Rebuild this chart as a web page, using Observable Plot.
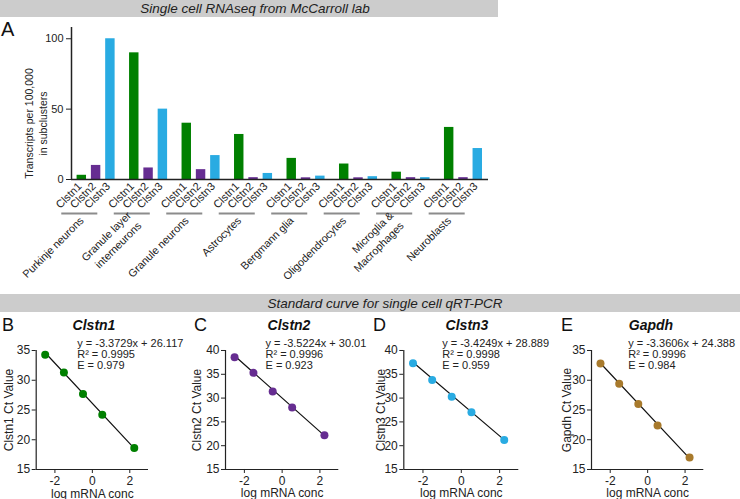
<!DOCTYPE html>
<html>
<head>
<meta charset="utf-8">
<script src="https://cdn.jsdelivr.net/npm/d3@7"></script>
<script src="https://cdn.jsdelivr.net/npm/@observablehq/plot@0.6"></script>
<style>
  body { margin: 0; background: #fff; font-family: "Liberation Sans", Arial, Helvetica, sans-serif; }
  #root { position: relative; width: 740px; height: 499px; overflow: hidden; background: #fff; }
  .banner { position: absolute; background: #cccccc; }
  .banner span { position: absolute; font-style: italic; font-size: 13.5px; color: #222; transform: translate(-50%, -50%); white-space: nowrap; line-height: 1; }
  .abs { position: absolute; white-space: nowrap; line-height: 1; color: #111; }
  .letter { font-size: 18px; }
  .letterA { font-size: 20px; }
  .title { font-size: 14px; font-weight: bold; font-style: italic; transform: translateX(-50%); }
</style>
</head>
<body>
<div id="root">
  <div class="banner" style="left:0;top:0;width:498px;height:17px"><span style="left:255px;top:9px">Single cell RNAseq from McCarroll lab</span></div>
  <div class="banner" style="left:0;top:294px;width:740px;height:18px"><span style="left:385px;top:9.5px">Standard curve for single cell qRT-PCR</span></div>
</div>
<script>
// ---------------- DATA ----------------
// Panel A: single cell RNAseq
const cellTypes = ["Purkinje neurons", "Granule layer\ninterneurons", "Granule neurons", "Astrocytes",
                   "Bergmann glia", "Oligodendrocytes", "Microglia &\nMacrophages", "Neuroblasts"];
const genes = ["Clstn1", "Clstn2", "Clstn3"];
const clstn1Expr = [3, 90, 40, 32, 15, 11, 5.2, 37];
const clstn2Expr = [10, 8.2, 7, 1.3, 1.2, 1.2, 1.3, 1.3];
const clstn3Expr = [100, 50, 17, 4.3, 2.4, 2, 1.3, 22];
const yTicksA = [0, 50, 100];
const yLabelA = "Transcripts per 100,000\nin subclusters";

// Panels B-E: standard curves
const stdGenes = ["Clstn1", "Clstn2", "Clstn3", "Gapdh"];
const panelLetters = ["B", "C", "D", "E"];
const logConc = [-2.52, -1.52, -0.5, 0.53, 2.24];
const ctClstn1 = [34.3, 31.3, 27.7, 24.2, 18.6];
const ctClstn2 = [38.6, 35.3, 31.4, 28.0, 22.2];
const ctClstn3 = [37.3, 33.8, 30.3, 27.0, 21.2];
const ctGapdh  = [32.8, 29.4, 26.0, 22.4, 17.0];
const slopes = ["-3.3729", "-3.5224", "-3.4249", "-3.3606"];
const intercepts = ["26.117", "30.01", "28.889", "24.388"];
const rSquared = ["0.9995", "0.9996", "0.9998", "0.9996"];
const efficiency = ["0.979", "0.923", "0.959", "0.984"];
const yMaxStd = [35, 40, 40, 35];
const xTicksStd = [-2, 0, 2];

// ---------------- STYLE / LAYOUT ----------------
const FONT = '"Liberation Sans", Arial, Helvetica, sans-serif';
const geneColors = ["#008000", "#662d91", "#29abe2"];
const stdColors = ["#008000", "#662d91", "#29abe2", "#a87a2c"];
const GROUP_STEP = 3.67, HALF_BAR = 0.33;
const xDomainA = [-0.72, 28.44];
const stdLayout = [
  {left: 0,   marginLeft: 35.7, frameW: 112.3, labelOffset: 32, eqDx: 41,   titleX: 94,  letterX: 2},
  {left: 185, marginLeft: 40,   frameW: 113.3, labelOffset: 33, eqDx: 40,   titleX: 289, letterX: 194},
  {left: 370, marginLeft: 33.3, frameW: 115,   labelOffset: 27, eqDx: 38.4, titleX: 467, letterX: 373},
  {left: 555, marginLeft: 36,   frameW: 112.3, labelOffset: 29, eqDx: 36.7, titleX: 651, letterX: 561}
];

const root = document.getElementById("root");
function place(el, left, top) {
  el.style.position = "absolute";
  el.style.left = left + "px";
  el.style.top = top + "px";
  root.appendChild(el);
}
function addText(cls, text, left, top) {
  const d = document.createElement("div");
  d.className = "abs " + cls;
  d.textContent = text;
  place(d, left, top);
}

// ---------------- PANEL A ----------------
const expression = [clstn1Expr, clstn2Expr, clstn3Expr];
const barData = cellTypes.flatMap((ct, gi) =>
  genes.map((gene, ji) => ({ct, gene, pos: gi * GROUP_STEP + ji, value: expression[ji][gi]})));
const groupData = cellTypes.map((ct, gi) => ({ct, c1: gi * GROUP_STEP}));

const plotA = Plot.plot({
  width: 500, height: 292,
  marginLeft: 71, marginRight: 12, marginTop: 27, marginBottom: 113,
  style: {background: "none", overflow: "visible", fontFamily: FONT, fontSize: "10.5px", color: "#222"},
  x: {domain: xDomainA, axis: null},
  y: {domain: [0, 108]},
  color: {domain: genes, range: geneColors},
  marks: [
    Plot.rectY(barData, {x1: d => d.pos - HALF_BAR, x2: d => d.pos + HALF_BAR, y1: 0, y2: "value", fill: "gene"}),
    Plot.ruleY([0], {stroke: "#222", strokeWidth: 1.5}),
    Plot.ruleX([xDomainA[0]], {stroke: "#222", strokeWidth: 1.5}),
    Plot.axisY({ticks: yTicksA, tickSize: 5, tickPadding: 3, label: null, fontSize: 11}),
    Plot.text(barData, {x: "pos", y: 0, text: "gene", rotate: -45, textAnchor: "end", lineAnchor: "top",
                        dx: -5, dy: 2, fontSize: 11, fill: "#222"}),
    Plot.ruleY(groupData, {x1: d => d.c1 - 1.4, x2: d => d.c1 + 1.12, y: 0, dy: 34, stroke: "#8c8c8c", strokeWidth: 2}),
    Plot.text(groupData, {x: d => d.c1 + 1, y: 0, text: "ct", rotate: -45, textAnchor: "end", lineAnchor: "middle",
                          dx: -15, dy: 38.5, lineHeight: 1.35, fontSize: 10.8, fill: "#222"}),
    Plot.text([yLabelA], {frameAnchor: "left", rotate: -90, textAnchor: "middle", lineAnchor: "middle",
                          dx: -36, dy: 20, lineHeight: 1.35, fontSize: 10.5, fill: "#222"})
  ]
});
place(plotA, 0, 0);
addText("letterA", "A", 1, 19);

// ---------------- PANELS B-E ----------------
const ctSeries = [ctClstn1, ctClstn2, ctClstn3, ctGapdh];
stdGenes.forEach((gene, i) => {
  const L = stdLayout[i];
  const pts = logConc.map((x, j) => ({x, y: ctSeries[i][j]}));
  const slope = +slopes[i], intercept = +intercepts[i];
  const ends = [logConc[0], logConc[logConc.length - 1]];
  const fit = ends.map(x => ({x, y: slope * x + intercept}));
  const eq = `y = ${slopes[i]}x + ${intercepts[i]}\nR² = ${rSquared[i]}\nE = ${efficiency[i]}`;
  const yTicks = d3.range(15, yMaxStd[i] + 1, 5);
  const p = Plot.plot({
    width: L.marginLeft + L.frameW + 12, height: 169,
    marginLeft: L.marginLeft, marginRight: 12, marginTop: 20, marginBottom: 30,
    style: {background: "none", overflow: "visible", fontFamily: FONT, fontSize: "11.5px", color: "#222"},
    x: {domain: [-3, 3]},
    y: {domain: [15, yMaxStd[i]]},
    marks: [
      Plot.ruleX([-3], {stroke: "#222", strokeWidth: 1.2}),
      Plot.ruleY([15], {stroke: "#222", strokeWidth: 1.2}),
      Plot.axisX({ticks: xTicksStd, tickSize: 4, tickPadding: 3, tickFormat: d => String(d),
                  label: "log mRNA conc", labelAnchor: "center", labelOffset: 28, labelArrow: false, fontSize: 12}),
      Plot.axisY({ticks: yTicks, tickSize: 4, tickPadding: 2, tickFormat: d => String(d),
                  label: `${gene} Ct Value`, labelAnchor: "center", labelOffset: L.labelOffset, labelArrow: false, fontSize: 12}),
      Plot.line(fit, {x: "x", y: "y", stroke: "#111", strokeWidth: 1.2}),
      Plot.dot(pts, {x: "x", y: "y", r: 4, fill: stdColors[i]}),
      Plot.text([eq], {frameAnchor: "top-left", textAnchor: "start", lineAnchor: "top", dx: L.eqDx, dy: -11,
                       lineHeight: 1, fontSize: 11, fill: "#222"})
    ]
  });
  place(p, L.left, 330);
  addText("letter", panelLetters[i], L.letterX, 315.5);
  addText("title", gene, L.titleX, 317.7);
});
</script>
</body>
</html>
